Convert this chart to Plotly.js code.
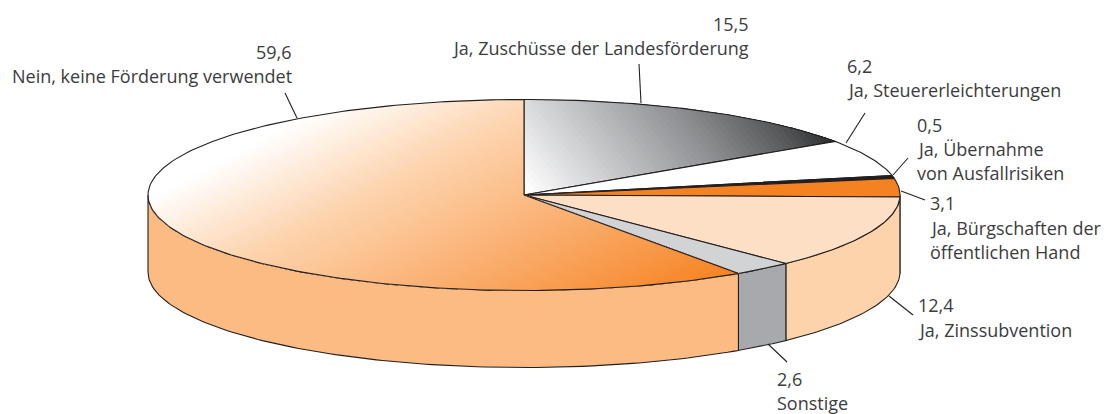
<!DOCTYPE html>
<html><head><meta charset="utf-8">
<script src="https://cdn.plot.ly/plotly-3.0.1.min.js"></script>
<style>html,body{margin:0;padding:0;background:#fff}#c{width:1110px;height:414px}</style>
</head><body><div id="c"></div>
<script>
// Data (share in percent, clockwise from 12 o'clock)
const categories = ["Ja, Zuschüsse der Landesförderung","Ja, Steuererleichterungen","Ja, Übernahme von Ausfallrisiken","Ja, Bürgschaften der öffentlichen Hand","Ja, Zinssubvention","Sonstige","Nein, keine Förderung verwendet"];
const values = [15.5, 6.2, 0.5, 3.1, 12.4, 2.6, 59.6];
const topColors = [null, "#ffffff", "#231f20", "#f58220", "#fddfc5", "#d1d3d4", null];
const sideColors = ["#a7a9ac","#ffffff","#231f20","#f58220","#fdd3ac","#a7a9ac","#fbbb83"];
const grayStops = [[0,"#ffffff"],[0.2,"#d8d9db"],[0.6,"#8e9093"],[0.85,"#58595b"],[1,"#2a2a2c"]];
const orangeStops = [[0,"#ffffff"],[0.27,"#fdd6b2"],[0.7,"#f9a660"],[1,"#f58220"]];

// Label lines: text, x, y, anchor
const labelTexts = ["59,6","Nein, keine Förderung verwendet","15,5","Ja, Zuschüsse der Landesförderung","6,2","Ja, Steuererleichterungen","0,5","Ja, Übernahme","von Ausfallrisiken","3,1","Ja, Bürgschaften der","öffentlichen Hand","12,4","Ja, Zinssubvention","2,6","Sonstige"];
const labelX = [294,294,751,751,845,845,915,915,915,928,928,928,916,916,775,775];
const labelY = [52,76,24,48,66,90,125,149,173,203,228,252,305,330,379,403];
const labelAnchor = ["right","right","right","right","left","left","left","left","left","left","left","left","left","left","left","left"];
const leaders = [[285,93,297,118],[639,64,641,103],[865,113,846,143],[908,158,893,175],[925,200,901,191],[913,315,889,296],[787,362,768,344]];

// Geometry of the drawing
const cx=524, cy=195, rx=376, ry=95.5, depth=77, ink="#231f20";
const total = values.reduce((a,b)=>a+b,0);
const pt=(deg,dy=0)=>{const r=deg*Math.PI/180;return [cx+rx*Math.sin(r), cy-ry*Math.cos(r)+dy];};
function arc(a0,a1,dy=0){const n=Math.max(2,Math.ceil(Math.abs(a1-a0)));const o=[];for(let i=0;i<=n;i++)o.push(pt(a0+(a1-a0)*i/n,dy));return o;}
function sector(a0,a1){return [[cx,cy],...arc(a0,a1),[cx,cy]];}
function hex(c){return [1,3,5].map(i=>parseInt(c.substr(i,2),16));}
function ramp(stops,t){for(let i=1;i<stops.length;i++){if(t<=stops[i][0]){const f=(t-stops[i-1][0])/(stops[i][0]-stops[i-1][0]);const A=hex(stops[i-1][1]),B=hex(stops[i][1]);return `rgb(${A.map((v,k)=>Math.round(v+(B[k]-v)*f)).join(",")})`;}}return stops[stops.length-1][1];}
function clip(poly,n,t){const o=[];for(let i=0;i<poly.length;i++){const P=poly[i],Q=poly[(i+1)%poly.length];const p=P[0]*n[0]+P[1]*n[1]-t,q=Q[0]*n[0]+Q[1]*n[1]-t;if(p>=0)o.push(P);if((p>=0)!==(q>=0)){const f=p/(p-q);o.push([P[0]+(Q[0]-P[0])*f,P[1]+(Q[1]-P[1])*f]);}}return o;}
const traces=[];
const poly=(pts,fill,line)=>traces.push({type:"scatter",x:pts.map(p=>p[0]),y:pts.map(p=>p[1]),mode:line?"lines":"none",fill:fill?"toself":"none",fillcolor:fill||undefined,line:line?{color:line,width:1.1}:{width:0},hoverinfo:"skip",showlegend:false});
function gradient(pts,n,from,to,stops,steps){
  const a=from[0]*n[0]+from[1]*n[1], b=to[0]*n[0]+to[1]*n[1];
  poly(pts,ramp(stops,0));
  for(let i=1;i<steps;i++){const t=i/steps;const c=clip(pts,n,a+(b-a)*t);if(c.length>2)poly(c,ramp(stops,t));}
}
// cumulative angles
const edges=[0];values.forEach(v=>edges.push(edges[edges.length-1]+v/total*360));
// side walls (front half only)
values.forEach((v,i)=>{const a0=Math.max(edges[i],90),a1=Math.min(edges[i+1],270);if(a1<=a0)return;
  const pts=[...arc(a0,a1),...arc(a1,a0,depth)];pts.push(pts[0]);poly(pts,sideColors[i],ink);});
// top slices
values.forEach((v,i)=>{const a0=edges[i],a1=edges[i+1],pts=sector(a0,a1);
  if(topColors[i])poly(pts,topColors[i]);
  else if(i===0)gradient(pts,[0.8,-0.6],[cx,cy-3],pt(a1),grayStops,56);
  else gradient(pts,[0.455,0.89],[150,193],pt(a0),orangeStops,70);
  poly(pts,null,ink);});

const annotations=labelTexts.map((t,i)=>({x:labelX[i],y:labelY[i],xref:"x",yref:"y",text:t,showarrow:false,xanchor:labelAnchor[i],yanchor:"middle",xshift:0,font:{family:"Open Sans, sans-serif",size:18,color:"#3c3c3e"}}));
const shapes=leaders.map(l=>({type:"line",x0:l[0],y0:l[1],x1:l[2],y1:l[3],xref:"x",yref:"y",line:{color:ink,width:1.1}}));
Plotly.newPlot("c",traces,{width:1110,height:414,margin:{l:0,r:0,t:0,b:0},paper_bgcolor:"#fff",plot_bgcolor:"#fff",
  xaxis:{range:[0,1110],visible:false,fixedrange:true},yaxis:{range:[414,0],visible:false,fixedrange:true},
  annotations,shapes,showlegend:false},{displayModeBar:false,staticPlot:true});
</script></body></html>
